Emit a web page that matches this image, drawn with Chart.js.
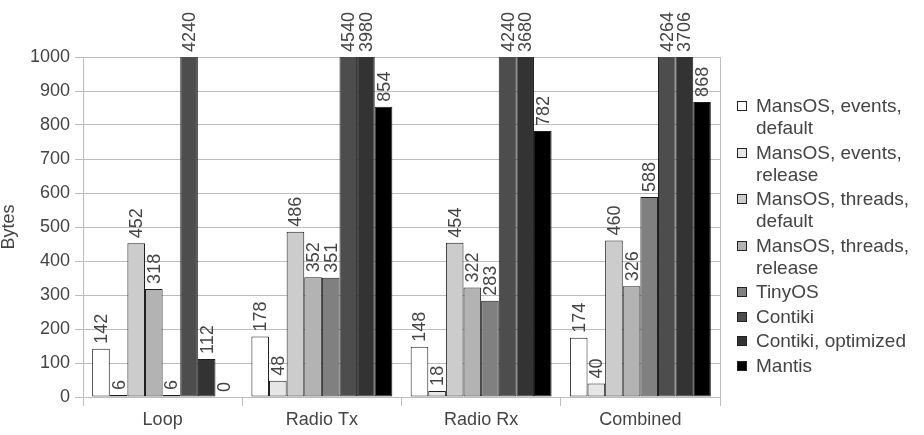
<!DOCTYPE html>
<html>
<head>
<meta charset="utf-8">
<script src="https://cdn.jsdelivr.net/npm/chart.js@4"></script>
<style>
  body { margin: 0; background: #fff; }
  #wrap { position: relative; width: 924px; height: 435px; }
  #legend {
    position: absolute; left: 737px; top: 95px; width: 187px;
    font-family: "Liberation Sans", Arial, sans-serif; font-size: 19px;
    line-height: 22px; color: #444444;
  }
  .item { position: relative; padding-left: 19px; margin-bottom: 2.5px; }
  .box {
    position: absolute; left: 0; top: 6px; width: 8px; height: 8px;
    border: 1px solid #222;
  }
</style>
</head>
<body>
<div id="wrap">
  <canvas id="barChart"></canvas>
  <div id="legend"></div>
</div>
<script>
// 資料
const categories = ['Loop', 'Radio Tx', 'Radio Rx', 'Combined'];
const seriesNames = [
    'MansOS, events, default',
    'MansOS, events, release',
    'MansOS, threads, default',
    'MansOS, threads, release',
    'TinyOS',
    'Contiki',
    'Contiki, optimized',
    'Mantis'
];
const eventsDefault = [142, 178, 148, 174];
const eventsRelease = [6, 48, 18, 40];
const threadsDefault = [452, 486, 454, 460];
const threadsRelease = [318, 352, 322, 326];
const tinyOS = [6, 351, 283, 588];
const contiki = [4240, 4540, 4240, 4264];
const contikiOptimized = [112, 3980, 3680, 3706];
const mantis = [0, 854, 782, 868];
const yMax = 1000;
const yStep = 100;

const seriesValues = [eventsDefault, eventsRelease, threadsDefault, threadsRelease,
    tinyOS, contiki, contikiOptimized, mantis];
const colors = ['#ffffff', '#e6e6e6', '#cccccc', '#b3b3b3', '#808080', '#4d4d4d', '#333333', '#000000'];

const textColor = '#444444';
const gridColor = '#bdbdbd';
const font = { family: '"Liberation Sans", Arial, sans-serif', size: 18 };

// 柱頂數值標籤
const valueLabels = {
    id: 'valueLabels',
    afterDatasetsDraw(chart) {
        const ctx = chart.ctx;
        const top = chart.chartArea.top;
        ctx.save();
        ctx.font = '18px "Liberation Sans", Arial, sans-serif';
        ctx.fillStyle = textColor;
        ctx.textAlign = 'left';
        ctx.textBaseline = 'middle';
        chart.data.datasets.forEach((ds, i) => {
            chart.getDatasetMeta(i).data.forEach((bar, j) => {
                const y = Math.max(bar.y, top) - 5;
                ctx.save();
                ctx.translate(bar.x, y);
                ctx.rotate(-Math.PI / 2);
                ctx.fillText(String(ds.data[j]), 0, 1);
                ctx.restore();
            });
        });
        ctx.restore();
    }
};

// 右側邊框
const rightBorder = {
    id: 'rightBorder',
    beforeDatasetsDraw(chart) {
        const a = chart.chartArea;
        const ctx = chart.ctx;
        ctx.save();
        ctx.strokeStyle = gridColor;
        ctx.lineWidth = 1;
        ctx.beginPath();
        ctx.moveTo(Math.round(a.right) + 0.5, a.top);
        ctx.lineTo(Math.round(a.right) + 0.5, a.bottom);
        ctx.stroke();
        ctx.restore();
    }
};

new Chart(document.getElementById('barChart'), {
    type: 'bar',
    data: {
        labels: categories,
        datasets: seriesNames.map((name, i) => ({
            label: name,
            data: seriesValues[i],
            backgroundColor: colors[i],
            borderColor: '#1e1e1e',
            borderWidth: 1,
            borderSkipped: false,
            barPercentage: 1,
            categoryPercentage: 0.885
        }))
    },
    options: {
        responsive: true,
        maintainAspectRatio: false,
        animation: false,
        layout: { padding: { top: 57, right: 204, left: 0, bottom: 0 } },
        plugins: {
            legend: { display: false },
            tooltip: { enabled: false }
        },
        scales: {
            x: {
                afterFit(scale) { scale.height = 38; },
                grid: {
                    offset: true,
                    drawOnChartArea: false,
                    tickLength: 9,
                    color: gridColor
                },
                border: { color: gridColor },
                ticks: { color: textColor, font: font, padding: 3 }
            },
            y: {
                min: 0,
                max: yMax,
                afterFit(scale) { scale.width = 83; },
                grid: { color: gridColor, tickLength: 8 },
                border: { color: gridColor },
                ticks: {
                    stepSize: yStep,
                    color: textColor,
                    font: font,
                    padding: 5,
                    callback: value => String(value)
                },
                title: {
                    display: true,
                    text: 'Bytes',
                    color: textColor,
                    font: { family: font.family, size: 18, lineHeight: 1 },
                    padding: 0
                }
            }
        }
    },
    plugins: [valueLabels, rightBorder]
});

// 圖例
const legend = document.getElementById('legend');
seriesNames.forEach((name, i) => {
    const item = document.createElement('div');
    item.className = 'item';
    const box = document.createElement('span');
    box.className = 'box';
    box.style.background = colors[i];
    item.appendChild(box);
    item.appendChild(document.createTextNode(name));
    legend.appendChild(item);
});
</script>
</body>
</html>
